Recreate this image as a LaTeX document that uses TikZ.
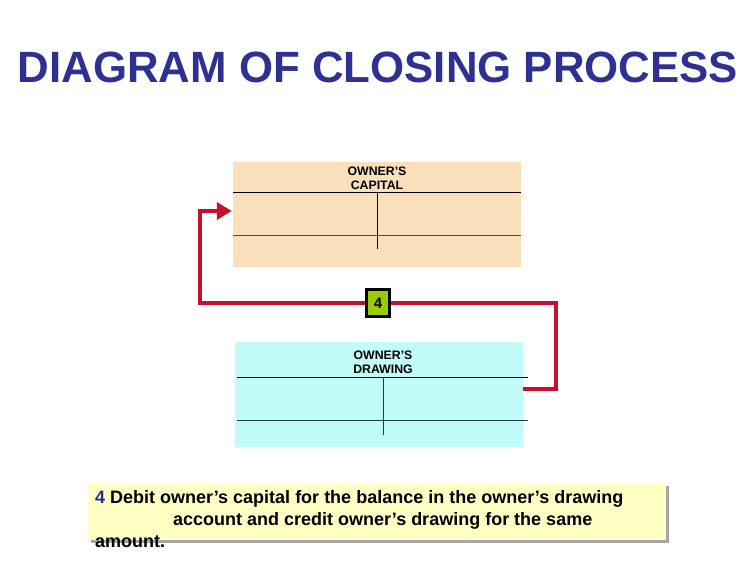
\documentclass[tikz,border=0pt]{standalone}
\usepackage{fontspec}
\setmainfont{Liberation Sans}
\usetikzlibrary{arrows.meta}
\definecolor{titleblue}{RGB}{46,49,146}
\definecolor{capfill}{RGB}{250,224,186}
\definecolor{drwfill}{RGB}{194,252,248}
\definecolor{connred}{RGB}{200,16,46}
\definecolor{fourgreen}{RGB}{153,204,0}
\definecolor{notefill}{RGB}{255,255,196}
\definecolor{numblue}{RGB}{30,50,150}
\definecolor{capline}{RGB}{90,75,60}
\definecolor{drwline}{RGB}{30,60,70}
\tikzset{
  acct/.style={rectangle, inner sep=0pt, minimum width=#1},
  hdr/.style={font=\fontsize{12.3}{14}\selectfont\bfseries, align=center, inner sep=0pt},
  conn/.style={draw=connred, line width=4pt, line join=miter, -{Triangle[length=15pt,width=17pt]}},
  notetext/.style={font=\fontsize{18}{21}\selectfont\bfseries, anchor=base west, inner sep=0pt}
}
\begin{document}
\begin{tikzpicture}[x=1pt,y=-1pt]
\useasboundingbox (0,0) rectangle (756,576);
% title
\node[font=\fontsize{43.8}{48}\selectfont\bfseries, text=titleblue, inner sep=0pt] (title) at (378,67) {DIAGRAM OF CLOSING PROCESS};
% owner's capital account
\node[acct, fill=capfill, minimum width=288pt, minimum height=105pt] (cap) at (377,214.5) {};
\node[hdr] (caphdr) at (377,178) {OWNER'S\\CAPITAL};
\draw[black, line width=0.8pt] (233,192) -- (521,192);
\draw[black, line width=0.8pt] (377,192) -- (377,249);
\draw[capline, line width=0.8pt] (233,235) -- (521,235);
% owner's drawing account
\node[acct, fill=drwfill, minimum width=288pt, minimum height=105pt] (drw) at (379,394.5) {};
\node[hdr] (drwhdr) at (383,362) {OWNER'S\\DRAWING};
\draw[black, line width=0.8pt] (237,377) -- (528,377);
\draw[drwline, line width=0.8pt] (383,377) -- (383,435);
\draw[drwline, line width=0.8pt] (237,420) -- (528,420);
% connector
\coordinate (c1) at (556,389);
\coordinate (c2) at (200,303);
\draw[conn] ([yshift=5.5pt]drw.east) -- (c1) |- (c2) |- ([yshift=3.5pt,xshift=-1pt]cap.west);
% step 4
\node[draw=black, line width=2.5pt, fill=fourgreen, minimum width=23pt, minimum height=27pt, inner sep=0pt, font=\fontsize{15}{17}\selectfont\bfseries] (four) at (378,303) {4};
% note
\fill[gray!70] (91,486) rectangle (669,543);
\node[rectangle, fill=notefill, minimum width=578pt, minimum height=57pt, inner sep=0pt] (note) at (377,511.5) {};
\node[notetext] (l1) at (95,503) {\textcolor{numblue}{4} Debit owner’s capital for the balance in the owner’s drawing};
\node[notetext] (l2) at (173,525.5) {account and credit owner’s drawing for the same};
\node[notetext] (l3) at (95,547) {amount.};
\end{tikzpicture}
\end{document}
